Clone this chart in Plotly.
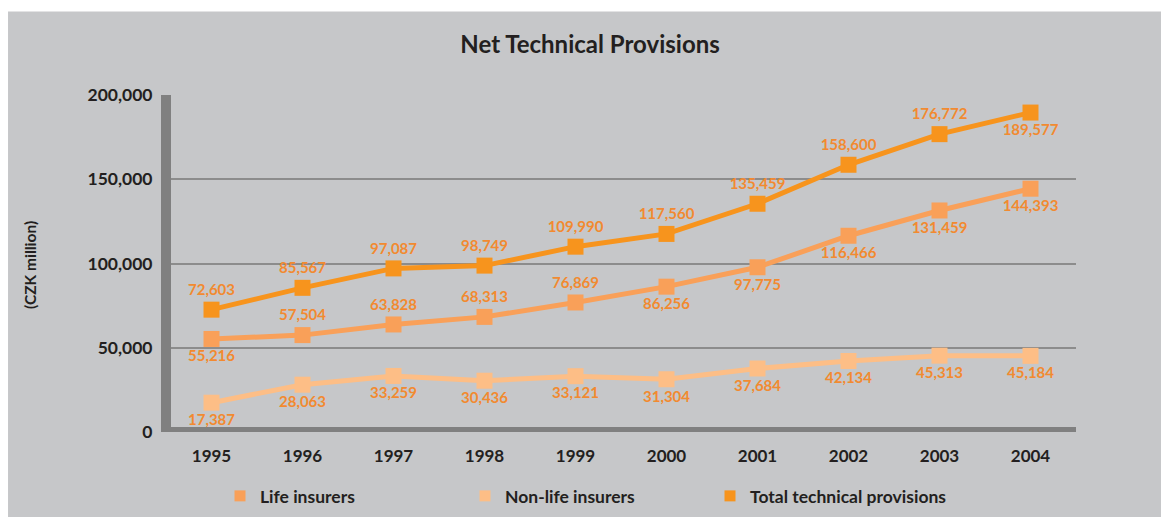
import plotly.graph_objects as go

years = ["1995", "1996", "1997", "1998", "1999", "2000", "2001", "2002", "2003", "2004"]
life = [55216, 57504, 63828, 68313, 76869, 86256, 97775, 116466, 131459, 144393]
nonlife = [17387, 28063, 33259, 30436, 33121, 31304, 37684, 42134, 45313, 45184]
total = [72603, 85567, 97087, 98749, 109990, 117560, 135459, 158600, 176772, 189577]

life_pos = ["bottom center"] + ["top center"] * 4 + ["bottom center"] * 5
nonlife_pos = ["bottom center"] * 10
total_pos = ["top center"] * 9 + ["bottom center"]

C_TOTAL = "#F7941D"
C_LIFE = "#F9A059"
C_NONLIFE = "#FDBE86"
C_TEXT = "#F28A30"
GRAY_BG = "#C6C7C9"
AXIS = "#808080"
FONT = "Lato"

def fmt(v):
    return [f"{x:,}" for x in v]

fig = go.Figure()
for name, vals, col, pos in [
    ("Non-life insurers", nonlife, C_NONLIFE, nonlife_pos),
    ("Life insurers", life, C_LIFE, life_pos),
    ("Total technical provisions", total, C_TOTAL, total_pos),
]:
    fig.add_trace(go.Scatter(
        x=years, y=vals, mode="lines+markers+text", name=name,
        line=dict(color=col, width=5),
        marker=dict(symbol="square", size=16, color=col),
        text=fmt(vals), textposition=pos,
        textfont=dict(family=FONT, size=15, color=C_TEXT, weight="bold"),
        showlegend=False, cliponaxis=False,
    ))

for name, col in [("Life insurers", C_LIFE), ("Non-life insurers", C_NONLIFE),
                  ("Total technical provisions", C_TOTAL)]:
    fig.add_trace(go.Scatter(
        x=[None], y=[None], mode="markers", name=name,
        marker=dict(symbol="square", size=11, color=col),
        showlegend=True,
    ))

shapes = [
    # white outer strips
    dict(type="rect", xref="paper", yref="paper", x0=-0.25, x1=1.3, y0=1.248, y1=1.4,
         fillcolor="white", line=dict(width=0), layer="above"),
    dict(type="rect", xref="paper", yref="paper", x0=-0.25, x1=-0.1736, y0=-0.4, y1=1.4,
         fillcolor="white", line=dict(width=0), layer="above"),
    # thick axis lines
    dict(type="line", xref="paper", yref="y", x0=0, x1=0, y0=0, y1=200000,
         line=dict(color=AXIS, width=10), layer="above"),
    dict(type="line", xref="paper", yref="y", x0=0, x1=1, y0=0, y1=0,
         line=dict(color=AXIS, width=10), layer="above"),
]

fig.update_layout(
    width=1161, height=517,
    margin=dict(l=166, r=85, t=95, b=85, autoexpand=False),
    paper_bgcolor=GRAY_BG, plot_bgcolor=GRAY_BG,
    font=dict(family=FONT, color="#231F20"),
    title=dict(text="<b>Net Technical Provisions</b>", xref="paper", x=0.466,
               yref="container", y=1 - 45 / 517, xanchor="center", yanchor="middle",
               font=dict(family=FONT, size=24, color="#231F20")),
    xaxis=dict(type="category", range=[-0.5, 9.5], showgrid=False, zeroline=False,
               showline=False, ticks="outside", ticklen=9, tickcolor="rgba(0,0,0,0)",
               tickfont=dict(family=FONT, size=17, color="#231F20", weight="bold")),
    yaxis=dict(range=[0, 200000], tickvals=[0, 50000, 100000, 150000, 200000],
               ticktext=["0", "50,000", "100,000", "150,000", "200,000"],
               showgrid=True, gridcolor="#8C8C8C", gridwidth=2, zeroline=False,
               showline=False, ticks="outside", ticklen=9, tickcolor="rgba(0,0,0,0)",
               tickfont=dict(family=FONT, size=17.5, color="#231F20", weight="bold")),
    shapes=shapes,
    annotations=[dict(text="<b>(CZK million)</b>", xref="paper", yref="paper",
                      x=(30 - 166) / 910, y=(432 - 265) / 337, textangle=-90,
                      showarrow=False, xanchor="center", yanchor="middle",
                      font=dict(family=FONT, size=15.5, color="#231F20"))],
    legend=dict(orientation="h", xref="container", yref="container", x=220 / 1161,
                y=1 - 496 / 517, xanchor="left", yanchor="middle",
                bgcolor="rgba(0,0,0,0)", entrywidth=200, entrywidthmode="pixels",
                font=dict(family=FONT, size=17.5, color="#231F20", weight="bold"),
                traceorder="normal"),
)

fig.write_html("out.html")
